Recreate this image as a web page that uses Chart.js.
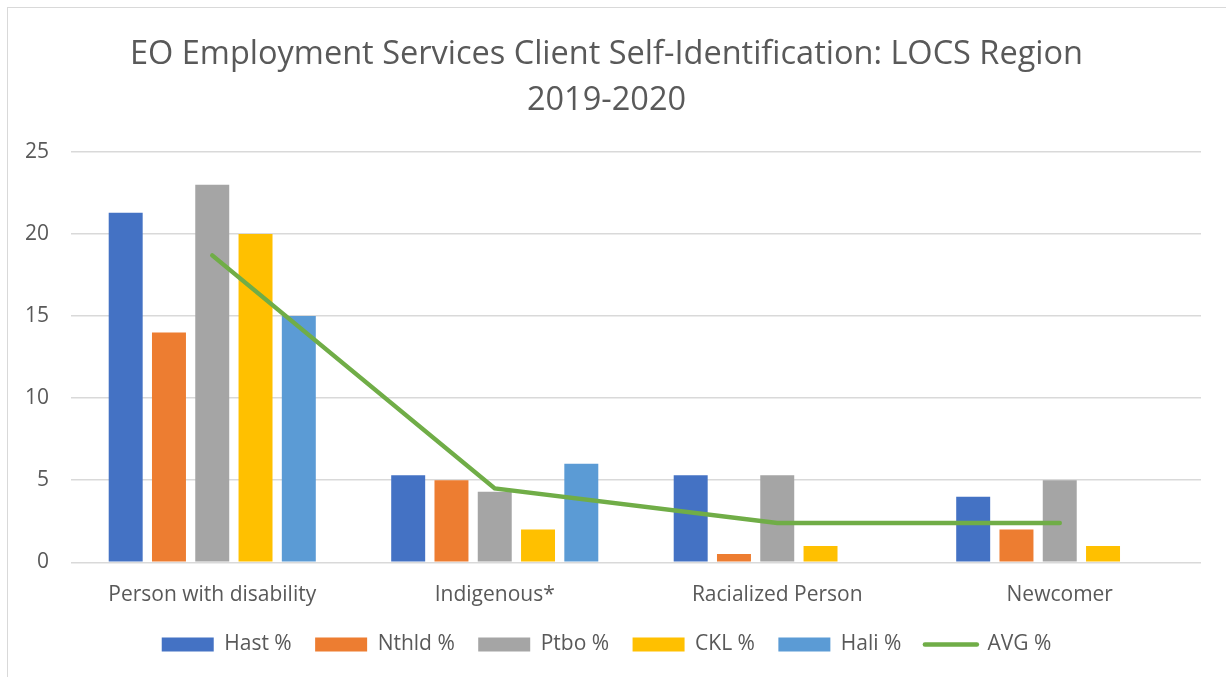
<!DOCTYPE html>
<html>
<head>
<meta charset="utf-8">
<script src="https://cdn.jsdelivr.net/npm/chart.js@4"></script>
<style>
  body { margin: 0; background: #fff; }
  #frame { position: absolute; left: 7px; top: 7px; width: 1240px; height: 700px; border: 1px solid #d9d9d9; }
  #myChart { position: absolute; left: 0; top: 0; }
</style>
</head>
<body>
<div id="frame"></div>
<canvas id="myChart" width="1226" height="677"></canvas>
<script>
const categories = ['Person with disability', 'Indigenous*', 'Racialized Person', 'Newcomer']
const hast = [21.3, 5.3, 5.3, 4]
const nthld = [14, 5, 0.5, 2]
const ptbo = [23, 4.3, 5.3, 5]
const ckl = [20, 2, 1, 1]
const hali = [15, 6, 0, 0]
const avg = [18.7, 4.5, 2.4, 2.4]
const yTicks = [0, 5, 10, 15, 20, 25]

const font = "'Open Sans', 'Lato', sans-serif"
const grey = '#595959'

function bar(label, values, color) {
    return {
        type: 'bar',
        label: label,
        data: values,
        backgroundColor: color,
        borderWidth: 0,
        order: 1,
        categoryPercentage: 0.766,
        barPercentage: 0.785
    }
}

let ctx = document.getElementById('myChart').getContext('2d')
let chart = new Chart(ctx, {
    data: {
        labels: categories,
        datasets: [
            bar('Hast %', hast, '#4472C4'),
            bar('Nthld %', nthld, '#ED7D31'),
            bar('Ptbo %', ptbo, '#A5A5A5'),
            bar('CKL %', ckl, '#FFC000'),
            bar('Hali %', hali, '#5B9BD5'),
            {
                type: 'line',
                label: 'AVG %',
                data: avg,
                borderColor: '#70AD47',
                backgroundColor: '#70AD47',
                borderWidth: 4.5,
                borderCapStyle: 'round',
                pointRadius: 0,
                pointStyle: 'line',
                tension: 0,
                order: 0
            }
        ]
    },
    options: {
        responsive: false,
        animation: false,
        layout: { padding: { left: 12, right: 25, top: 0, bottom: 12 } },
        plugins: {
            tooltip: { enabled: false },
            title: {
                display: true,
                text: ['EO Employment Services Client Self-Identification: LOCS Region', '2019-2020'],
                color: grey,
                font: { family: font, size: 32.5, weight: 'normal', lineHeight: 1.415 },
                padding: { top: 32, bottom: 28 }
            },
            legend: {
                position: 'bottom',
                labels: {
                    color: grey,
                    font: { family: font, size: 21 },
                    usePointStyle: true,
                    pointStyleWidth: 52,
                    boxHeight: 14,
                    padding: 14.5,
                    sort: (a, b) => a.datasetIndex - b.datasetIndex,
                    generateLabels: c => {
                        const items = Chart.defaults.plugins.legend.labels.generateLabels(c)
                        items.forEach(it => {
                            if (it.datasetIndex < 5) {
                                it.pointStyle = 'rect'
                                it.lineWidth = 0
                                it.text = it.text + ' \u2009'
                            } else {
                                it.pointStyle = 'line'
                                it.lineWidth = 4.5
                                it.lineCap = 'round'
                            }
                        })
                        return items
                    }
                }
            }
        },
        scales: {
            x: {
                grid: { display: false },
                border: { display: false },
                ticks: { color: grey, font: { family: font, size: 21 }, padding: 12 }
            },
            y: {
                min: 0,
                max: 25,
                afterFit: s => { s.width = 59 },
                afterBuildTicks: s => { s.ticks = yTicks.map(v => ({ value: v })) },
                grid: { color: '#d9d9d9', lineWidth: 1.5, drawTicks: false },
                border: { display: false },
                ticks: { color: grey, font: { family: font, size: 21 }, padding: 22 }
            }
        }
    }
})
</script>
</body>
</html>
